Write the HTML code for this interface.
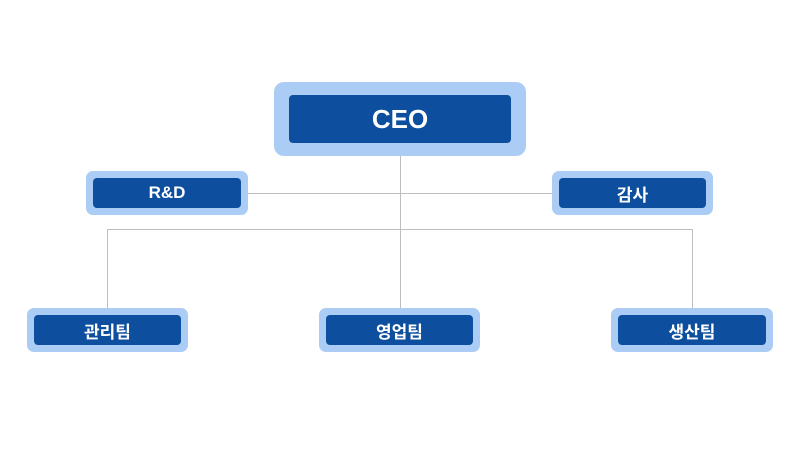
<!DOCTYPE html>
<html><head><meta charset="utf-8"><style>
body{margin:0;width:800px;height:469px;background:#fff;position:relative;overflow:hidden;font-family:"Liberation Sans","Noto Sans CJK KR",sans-serif}
.o{position:absolute;background:#abcdf5;border-radius:7px}
.i{position:absolute;left:7px;right:7px;top:7px;bottom:7px;background:#0d4f9e;border-radius:4px;color:#fff;font-weight:bold;font-size:17px;display:flex;align-items:center;justify-content:center}
.l{position:absolute;background:#bdbdbd}
</style></head><body>
<div class="l" style="left:400px;top:150px;width:1px;height:160px"></div>
<div class="l" style="left:245px;top:193px;width:310px;height:1px"></div>
<div class="l" style="left:107px;top:229px;width:586px;height:1px"></div>
<div class="l" style="left:107px;top:229px;width:1px;height:80px"></div>
<div class="l" style="left:692px;top:229px;width:1px;height:80px"></div>
<div class="o" style="left:274px;top:82px;width:252px;height:74px;border-radius:10px"><div class="i" style="left:15px;right:15px;top:13px;bottom:13px;font-size:26px">CEO</div></div>
<div class="o" style="left:86px;top:171px;width:162px;height:44px"><div class="i">R&amp;D</div></div>
<div class="o" style="left:552px;top:171px;width:161px;height:44px"><div class="i">감사</div></div>
<div class="o" style="left:27px;top:308px;width:161px;height:44px"><div class="i">관리팀</div></div>
<div class="o" style="left:319px;top:308px;width:161px;height:44px"><div class="i">영업팀</div></div>
<div class="o" style="left:611px;top:308px;width:162px;height:44px"><div class="i">생산팀</div></div>
</body></html>
